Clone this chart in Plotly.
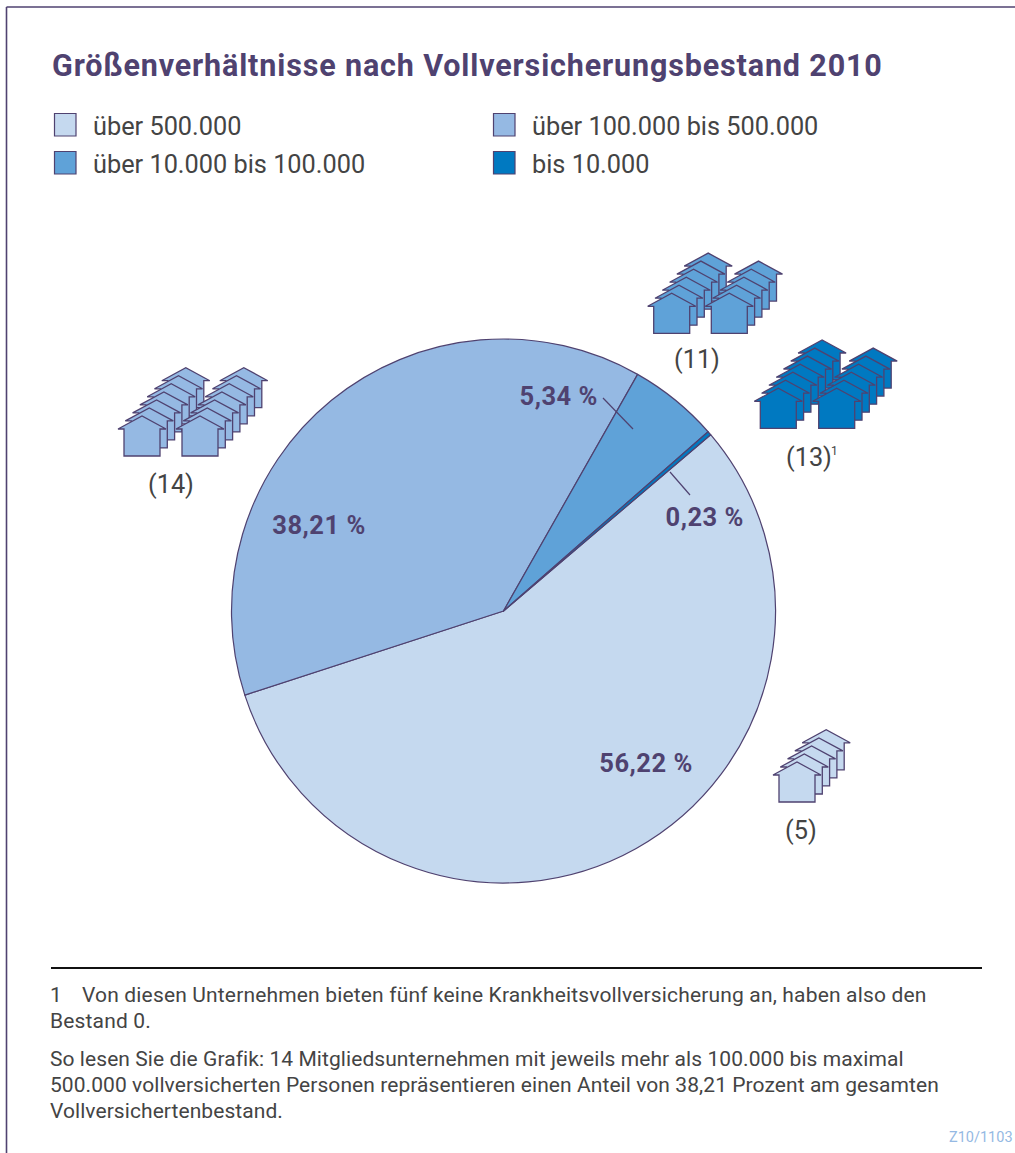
import json
import plotly.graph_objects as go

# ---- data ----
categories = ["über 500.000", "über 100.000 bis 500.000", "über 10.000 bis 100.000", "bis 10.000"]
shares = [56.22, 38.21, 5.34, 0.23]
share_labels = ["56,22 %", "38,21 %", "5,34 %", "0,23 %"]
company_counts = [5, 14, 11, 13]
count_labels = ["(5)", "(14)", "(11)", "(13)"]
colors = ["#c5d9ef", "#95b9e3", "#5fa2d8", "#0079c1"]

title = "Größenverhältnisse nach Vollversicherungsbestand 2010"
footnote_mark = "1"
footnote_lines = ["Von diesen Unternehmen bieten fünf keine Krankheitsvollversicherung an, haben also den",
                  "Bestand 0."]
reading_lines = ["So lesen Sie die Grafik: 14 Mitgliedsunternehmen mit jeweils mehr als 100.000 bis maximal",
                 "500.000 vollversicherten Personen repräsentieren einen Anteil von 38,21 Prozent am gesamten",
                 "Vollversichertenbestand."]
code = "Z10/1103"

W, H = 1015, 1153
INK = "#4f4270"
TXT = "#444444"
FONT = "Roboto"
cx, cy, r = 503.5, 611, 272

fig = go.Figure(go.Pie(
    labels=categories, values=shares, sort=False, direction="clockwise", rotation=49.6,
    marker=dict(colors=colors, line=dict(color=INK, width=1.2)),
    textinfo="none", hoverinfo="label+percent", showlegend=False,
    domain=dict(x=[(cx - r) / W, (cx + r) / W], y=[1 - (cy + r) / H, 1 - (cy - r) / H]),
))

shapes, ann, spacing = [], [], []
def text(x, y, s, size, color=TXT, anchor="left", bold=False, track=0):
    ann.append(dict(x=x, y=y, xref="x", yref="y", text=s, showarrow=False, xanchor=anchor, yanchor="middle",
                    align="left" if anchor == "left" else anchor,
                    font=dict(family=FONT, size=size, color=color, weight=700 if bold else 400)))
    spacing.append(track)
def line(x0, y0, x1, y1, color=INK, width=1.2):
    shapes.append(dict(type="line", xref="x", yref="y", x0=x0, y0=y0, x1=x1, y1=y1,
                       line=dict(color=color, width=width)))

def house(ax, ay, color):
    pts = [(-24, 13), (0, 0), (24, 13), (18, 13), (18, 40), (-18, 40), (-18, 13)]
    p = "M" + " L".join(f"{ax+dx:.1f},{ay+dy:.1f}" for dx, dy in pts) + " Z"
    shapes.append(dict(type="path", xref="x", yref="y", path=p, fillcolor=color,
                       line=dict(color=INK, width=1.3)))

def stack(ax, ay, n, color):
    for i in reversed(range(n)):
        house(ax + i * 7.3, ay - i * 8.05, color)

# frame
line(6.5, 7, 1015, 7, width=1.6); line(6.5, 7, 6.5, 1153, width=1.6)
# title
text(50, 65, title, 30.5, INK, bold=True, track=0.85)
# legend
leg = [(54, 126), (493, 126), (54, 164), (493, 164)]
for (x, y), c, lab in zip(leg, colors, categories):
    shapes.append(dict(type="rect", xref="x", yref="y", x0=x + .5, x1=x + 22, y0=y - 12.5, y1=y + 10,
                       fillcolor=c, line=dict(color=INK, width=1.2)))
    text(x + 37, y, lab, 25.3)
# leaders
line(603, 398, 633, 429); line(670, 472, 690, 495)
# share labels
for (x, y), s in zip([(645.5, 763), (318.5, 525), (558, 396), (704, 517)], share_labels):
    text(x, y, s, 25.5, INK, anchor="center", bold=True, track=0.5)
# houses
stack(797, 762, company_counts[0], colors[0])
stack(142, 416, 7, colors[1]); stack(200, 416, company_counts[1] - 7, colors[1])
stack(671.7, 293.3, 6, colors[2]); stack(729.3, 293.3, company_counts[2] - 6, colors[2])
stack(778.3, 388.3, 7, colors[3]); stack(836.7, 388.3, company_counts[3] - 7, colors[3])
# counts
for (x, y), s in zip([(801, 830), (171, 484), (697, 359), (809, 457)], count_labels):
    text(x, y, s, 25.3, anchor="center")
text(834, 451, footnote_mark, 12, anchor="center")
# foot
line(51, 968, 982, 968, "#111111", 2)
text(48, 995, footnote_mark, 21)
text(80, 995, footnote_lines[0], 21, track=0.16)
text(48, 1021, footnote_lines[1], 21, track=0.16)
for y, s in zip([1059, 1085, 1111], reading_lines):
    text(48, y, s, 21, track=0.07)
text(1015, 1137, code, 14.5, "#95b9e3", anchor="right")

fig.update_layout(
    width=W, height=H, margin=dict(l=0, r=0, t=0, b=0), paper_bgcolor="white", plot_bgcolor="rgba(0,0,0,0)",
    xaxis=dict(range=[0, W], visible=False, fixedrange=True),
    yaxis=dict(range=[H, 0], visible=False, fixedrange=True),
    shapes=shapes, annotations=ann, font=dict(family=FONT),
)
post = ("document.body.style.margin='0';document.body.style.overflow='hidden';"
        "var sp=" + json.dumps(spacing) + ";"
        "sp.forEach(function(v,i){if(!v)return;"
        "var t=document.querySelector('.annotation[data-index=\"'+i+'\"] text');"
        "if(t)t.style.letterSpacing=v+'px';});")
fig.write_html("out.html", config=dict(displayModeBar=False), post_script=post)
